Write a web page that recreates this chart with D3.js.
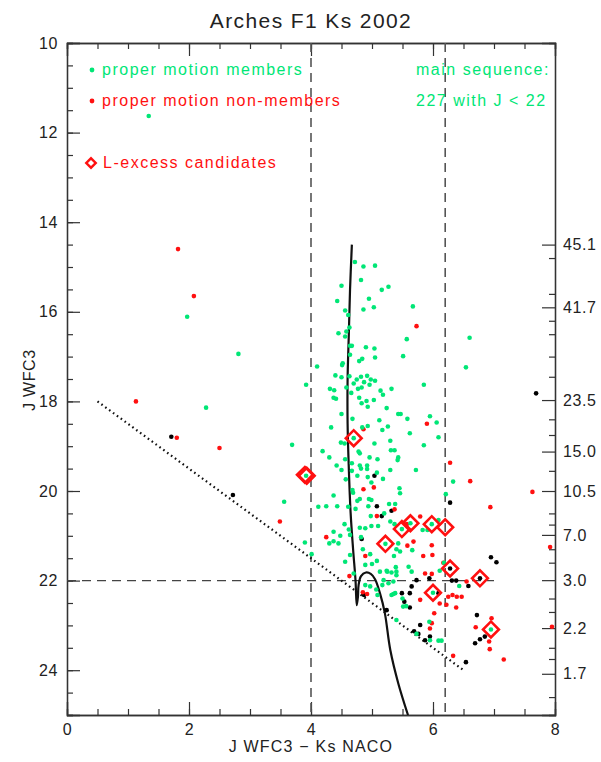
<!DOCTYPE html>
<html><head><meta charset="utf-8">
<script src="https://cdn.jsdelivr.net/npm/d3@7"></script>
<style>
body{margin:0;background:#fff;}
svg{display:block;font-family:"Liberation Sans","DejaVu Sans",sans-serif;}
</style></head>
<body><svg id="c" width="601" height="762"></svg>
<script>
// ---- data ----
const title = "Arches F1 Ks 2002";
const xLabel = "J WFC3 \u2212 Ks NACO";
const yLabel = "J WFC3";
const xTicks = [0, 2, 4, 6, 8];
const yTicks = [10, 12, 14, 16, 18, 20, 22, 24];
const massLabels = ["45.1","41.7","23.5","15.0","10.5","7.0","3.0","2.2","1.7"];
const massJ = [14.5, 15.9, 17.97, 19.12, 20.0, 20.98, 21.99, 23.06, 24.08];
const massMinorJ = [14.8, 15.6, 16.2, 16.5, 17.0, 17.45, 18.4, 18.75, 19.55, 20.5, 20.75, 21.3, 21.6, 22.4, 22.7, 23.5, 23.75, 24.6];

const members = [
[1.34,11.63],[1.97,16.11],[2.81,16.94],[2.28,18.14],[3.69,18.97],[3.56,20.24],[3.92,19.66],[3.90,21.15],[4.01,21.41],
[4.72,14.89],[4.86,14.99],[5.05,14.97],[4.82,15.29],[4.50,15.42],[5.16,15.51],[5.27,15.44],[4.95,15.71],[4.43,15.76],
[4.86,15.95],[5.03,15.90],[5.67,15.88],[4.56,15.97],[4.61,16.07],[4.63,16.35],[4.45,16.48],[4.58,16.44],[4.56,16.55],
[5.57,16.61],[6.60,16.58],[4.64,16.76],[4.67,16.76],[4.90,16.79],[5.04,16.82],[4.64,16.96],[5.05,17.02],[5.51,16.99],
[4.84,17.05],[4.79,17.10],[4.52,17.15],[4.51,17.19],[4.10,17.22],[6.54,17.24],[4.40,17.42],[4.50,17.46],[4.63,17.44],
[4.82,17.45],[4.92,17.43],[4.75,17.51],[4.98,17.51],[5.05,17.54],[4.70,17.60],[4.87,17.57],[4.96,17.63],[3.92,17.63],
[4.83,17.69],[4.77,17.72],[5.85,17.63],[4.31,17.72],[4.38,17.75],[4.58,17.69],[4.66,17.81],[5.14,17.76],[5.32,17.72],
[5.18,17.85],[4.37,17.92],[4.41,17.94],[4.79,17.92],[5.03,17.97],[4.91,17.99],[4.83,18.04],[4.93,18.12],[5.24,18.15],
[4.50,18.28],[5.43,18.28],[5.47,18.28],[5.95,18.33],[5.58,18.39],[4.68,18.39],[5.12,18.42],[6.06,18.47],[4.33,18.58],
[4.84,18.58],[4.93,18.55],[5.17,18.64],[5.26,18.56],[5.62,18.71],[6.09,18.80],[4.70,18.82],[4.49,18.92],[4.55,18.94],
[5.04,18.94],[5.30,18.88],[5.85,18.98],[4.19,19.11],[4.78,19.12],[4.80,19.16],[5.31,19.09],[5.37,19.09],[4.30,19.25],
[4.96,19.25],[5.09,19.29],[5.43,19.25],[5.42,19.31],[4.56,19.29],[4.42,19.43],[4.67,19.38],[4.80,19.43],[4.92,19.43],
[4.92,19.51],[4.50,19.53],[4.67,19.55],[4.82,19.50],[5.30,19.53],[5.72,19.53],[4.57,19.74],[4.76,19.66],[5.08,19.59],
[4.93,19.69],[5.18,19.73],[4.99,19.81],[6.33,19.79],[5.45,19.94],[5.46,20.05],[4.68,19.98],[4.69,20.04],[4.37,20.10],
[4.95,20.18],[4.99,20.20],[4.80,20.18],[4.76,20.22],[6.21,20.07],[4.12,20.35],[4.25,20.34],[4.43,20.34],[4.61,20.35],
[4.73,20.40],[4.94,20.34],[5.28,20.29],[5.38,20.29],[5.20,20.50],[4.98,20.56],[4.55,20.74],[4.80,20.82],[4.99,20.78],
[5.10,20.78],[5.30,20.68],[5.37,20.74],[5.49,20.85],[5.63,20.72],[5.98,20.74],[5.83,20.87],[5.91,20.87],[6.09,20.65],
[4.37,20.91],[4.48,21.00],[4.62,20.86],[4.64,20.98],[4.82,21.03],[4.89,20.83],[4.30,21.17],[4.37,21.12],[4.45,21.17],
[5.22,21.18],[5.43,21.17],[5.66,21.32],[5.46,21.35],[5.60,21.69],[5.65,21.80],[5.24,21.78],[5.32,21.82],[5.40,21.80],
[6.11,21.78],[5.19,21.99],[6.43,22.12],[6.00,22.27],[5.35,22.30],[5.51,22.58],[5.94,22.92],[6.09,23.34],[6.14,23.34],
[4.64,21.43],[4.56,21.58],[4.85,21.30],[4.97,21.41],[5.40,21.30],[5.36,21.45],[4.89,21.65],[5.00,21.63],[5.08,21.56],
[5.25,21.80],[5.39,21.70],[5.40,21.88],[5.13,21.80],[4.70,21.84],[4.89,22.10],[4.97,22.13],[5.07,22.20],[5.17,22.10],
[5.27,22.06],[5.35,22.02],[5.38,22.28],[5.32,22.32],[5.09,22.32],[5.50,22.40],[5.56,22.57],[5.40,22.88],[5.73,23.19],
[5.95,23.33],[6.18,21.60],[6.95,23.09]
];
const nonMembers = [
[1.82,14.60],[2.08,15.65],[1.13,18.00],[1.80,18.81],[2.50,19.04],[3.49,20.68],[5.73,16.32],[5.90,18.50],[4.86,18.62],
[6.28,19.37],[6.61,19.78],[4.86,19.96],[5.03,19.92],[5.37,20.41],[5.08,20.56],[5.79,20.57],[4.25,21.03],[5.58,21.22],
[5.68,21.13],[5.98,21.21],[6.94,20.36],[7.63,20.02],[5.57,20.74],[5.84,21.45],[5.99,21.43],[7.92,21.25],[6.17,21.60],
[5.98,21.85],[5.87,21.84],[6.55,22.02],[6.25,22.36],[6.32,22.32],[6.39,22.36],[6.47,22.36],[5.79,22.43],[6.22,22.54],
[6.38,22.60],[6.02,22.73],[6.70,23.04],[6.96,22.84],[5.98,22.95],[7.95,23.03],[6.92,23.36],[6.93,23.53],[7.16,23.76],
[6.33,23.68],[4.89,21.45],[4.63,21.90],[4.85,22.26],[4.92,22.30],[6.11,22.51],[5.95,23.07]
];
const others = [
[1.71,18.79],[2.72,20.09],[5.04,19.66],[5.08,20.34],[6.28,20.26],[5.32,20.44],[5.16,20.56],[4.83,21.07],[6.95,21.48],
[7.04,21.59],[6.28,21.73],[5.73,21.99],[5.94,21.95],[6.31,22.00],[6.38,22.00],[6.58,22.12],[6.77,21.95],[5.65,22.13],
[6.09,22.28],[5.62,22.60],[6.72,22.77],[5.79,22.99],[6.85,23.25],[6.77,23.31],[6.69,23.40],[5.69,23.13],[5.95,23.25],
[5.76,23.19],[6.54,23.82],[5.62,22.28],[4.87,22.32],[5.49,22.28],[5.53,22.47],[5.24,22.66],[5.87,23.33],[7.69,17.82]
];
const lExcess = [
[3.90,19.64],[3.93,19.66],[4.70,18.82],[5.49,20.85],[5.63,20.72],[5.98,20.74],[6.20,20.81],[5.22,21.18],[6.28,21.73],
[6.77,21.95],[6.00,22.27],[6.95,23.09]
];
const isochrone = [
[4.67,14.5],[4.64,15.5],[4.62,16.5],[4.60,17.5],[4.60,18.5],[4.62,19.5],[4.65,20.5],[4.69,21.3],[4.73,22.0],[4.75,22.55],
[4.77,22.35],[4.78,22.1],[4.82,21.9],[4.90,21.82],[4.98,21.85],[5.05,21.97],[5.13,22.28],[5.21,22.72],[5.30,23.55],
[5.43,24.29],[5.59,25.0]
];
const dottedLine = [[0.5,18.0],[6.5,24.0]];
const vDashX = [4.0, 6.2];
const hDash = {j: 22.0, x0: 0, x1: 7.0};

// ---- drawing ----
const green = "#00e676", red = "#ff1010";
const svg = d3.select("#c");
const x = d3.scaleLinear().domain([0, 8]).range([67, 555]);
const y = d3.scaleLinear().domain([10, 25]).range([43, 715]);
const axisColor = "#333";

svg.append("clipPath").attr("id", "clipP").append("rect")
  .attr("x", x(0)).attr("y", y(10)).attr("width", x(8)-x(0)).attr("height", y(25)-y(10));

function styleAxis(g){
  g.select(".domain").attr("stroke", axisColor).attr("stroke-width", 1.3);
  g.selectAll(".tick line").attr("stroke", axisColor).attr("stroke-width", 1.2);
  g.selectAll(".tick text").attr("fill", "#222").attr("font-size", 16).attr("letter-spacing", 0.6)
   .attr("font-family", '"Liberation Sans","DejaVu Sans",sans-serif');
}
const half = d3.range(0, 8.01, 0.5);
const yHalf = d3.range(10, 25.01, 0.5);

// bottom
svg.append("g").attr("transform", `translate(0,${y(25)})`)
  .call(d3.axisBottom(x).tickValues(half).tickSize(-6).tickFormat("")).call(styleAxis);
svg.append("g").attr("transform", `translate(0,${y(25)})`)
  .call(d3.axisBottom(x).tickValues(xTicks).tickSize(-13).tickPadding(9).tickFormat(d3.format("d"))).call(styleAxis);
// top
svg.append("g").attr("transform", `translate(0,${y(10)})`)
  .call(d3.axisTop(x).tickValues(half).tickSize(-6).tickFormat("")).call(styleAxis);
svg.append("g").attr("transform", `translate(0,${y(10)})`)
  .call(d3.axisTop(x).tickValues(xTicks).tickSize(-13).tickFormat("")).call(styleAxis);
// left
svg.append("g").attr("transform", `translate(${x(0)},0)`)
  .call(d3.axisLeft(y).tickValues(yHalf).tickSize(-6).tickFormat("")).call(styleAxis);
svg.append("g").attr("transform", `translate(${x(0)},0)`)
  .call(d3.axisLeft(y).tickValues(yTicks).tickSize(-13).tickPadding(9).tickFormat(d3.format("d"))).call(styleAxis);
// right (mass labels)
svg.append("g").attr("transform", `translate(${x(8)},0)`)
  .call(d3.axisRight(y).tickValues(massMinorJ).tickSize(-6).tickFormat("")).call(styleAxis);
svg.append("g").attr("transform", `translate(${x(8)},0)`)
  .call(d3.axisRight(y).tickValues(massJ).tickSize(-13).tickPadding(8).tickFormat((d,i)=>massLabels[i])).call(styleAxis);

// dashed lines
const lines = svg.append("g").attr("clip-path", "url(#clipP)");
lines.selectAll("line.v").data(vDashX).join("line")
  .attr("x1", d=>x(d)).attr("x2", d=>x(d)).attr("y1", y(10)).attr("y2", y(25))
  .attr("stroke", "#555").attr("stroke-width", 1.6).attr("stroke-dasharray", "9,6");
lines.append("line").attr("x1", x(hDash.x0)).attr("x2", x(hDash.x1)).attr("y1", y(hDash.j)).attr("y2", y(hDash.j))
  .attr("stroke", "#444").attr("stroke-width", 1.4).attr("stroke-dasharray", "9,6");
// dotted line
lines.append("path").datum(dottedLine)
  .attr("d", d3.line().x(d=>x(d[0])).y(d=>y(d[1])))
  .attr("fill", "none").attr("stroke", "#111").attr("stroke-width", 2.2).attr("stroke-dasharray", "1.6,3.2");
// isochrone
lines.append("path").datum(isochrone)
  .attr("d", d3.line().x(d=>x(d[0])).y(d=>y(d[1])).curve(d3.curveCatmullRom.alpha(0.5)))
  .attr("fill", "none").attr("stroke", "#111").attr("stroke-width", 2.2);

// points
const pts = svg.append("g").attr("clip-path", "url(#clipP)");
function dots(data, color){
  pts.append("g").selectAll("circle").data(data).join("circle")
    .attr("cx", d=>x(d[0])).attr("cy", d=>y(d[1])).attr("r", 2.3).attr("fill", color);
}
dots(others, "#000");
dots(nonMembers, red);
dots(members, green);
const diamond = d3.symbol().type(d3.symbolSquare).size(125);
pts.append("g").selectAll("path").data(lExcess).join("path")
  .attr("d", diamond)
  .attr("transform", d=>`translate(${x(d[0])},${y(d[1])}) rotate(45)`)
  .attr("fill", "none").attr("stroke", red).attr("stroke-width", 2.6);

// legend
const leg = svg.append("g").attr("font-size", 16).attr("letter-spacing", 1.5);
leg.append("circle").attr("cx", 92).attr("cy", 70).attr("r", 2.4).attr("fill", green);
leg.append("text").attr("x", 102).attr("y", 75).attr("fill", green).text("proper motion members");
leg.append("circle").attr("cx", 92).attr("cy", 101).attr("r", 2.4).attr("fill", red);
leg.append("text").attr("x", 102).attr("y", 106).attr("fill", red).text("proper motion non-members");
leg.append("path").attr("d", d3.symbol().type(d3.symbolSquare).size(45)).attr("transform", "translate(91,163) rotate(45)")
  .attr("fill", "none").attr("stroke", red).attr("stroke-width", 2.4);
leg.append("text").attr("x", 103).attr("y", 168).attr("fill", red).text("L-excess candidates");
leg.append("text").attr("x", 416).attr("y", 75).attr("fill", green).text("main sequence:");
leg.append("text").attr("x", 416).attr("y", 106).attr("fill", green).text("227 with J < 22");

// titles
svg.append("text").attr("x", 311).attr("y", 28).attr("text-anchor", "middle").attr("font-size", 21)
  .attr("letter-spacing", 1.4).attr("fill", "#222").text(title);
svg.append("text").attr("x", 311).attr("y", 752).attr("text-anchor", "middle").attr("font-size", 16)
  .attr("letter-spacing", 1.2).attr("fill", "#222").text(xLabel);
svg.append("text").attr("transform", "translate(35,380) rotate(-90)").attr("text-anchor", "middle")
  .attr("font-size", 16).attr("letter-spacing", 0.6).attr("fill", "#222").text(yLabel);
</script></body></html>
